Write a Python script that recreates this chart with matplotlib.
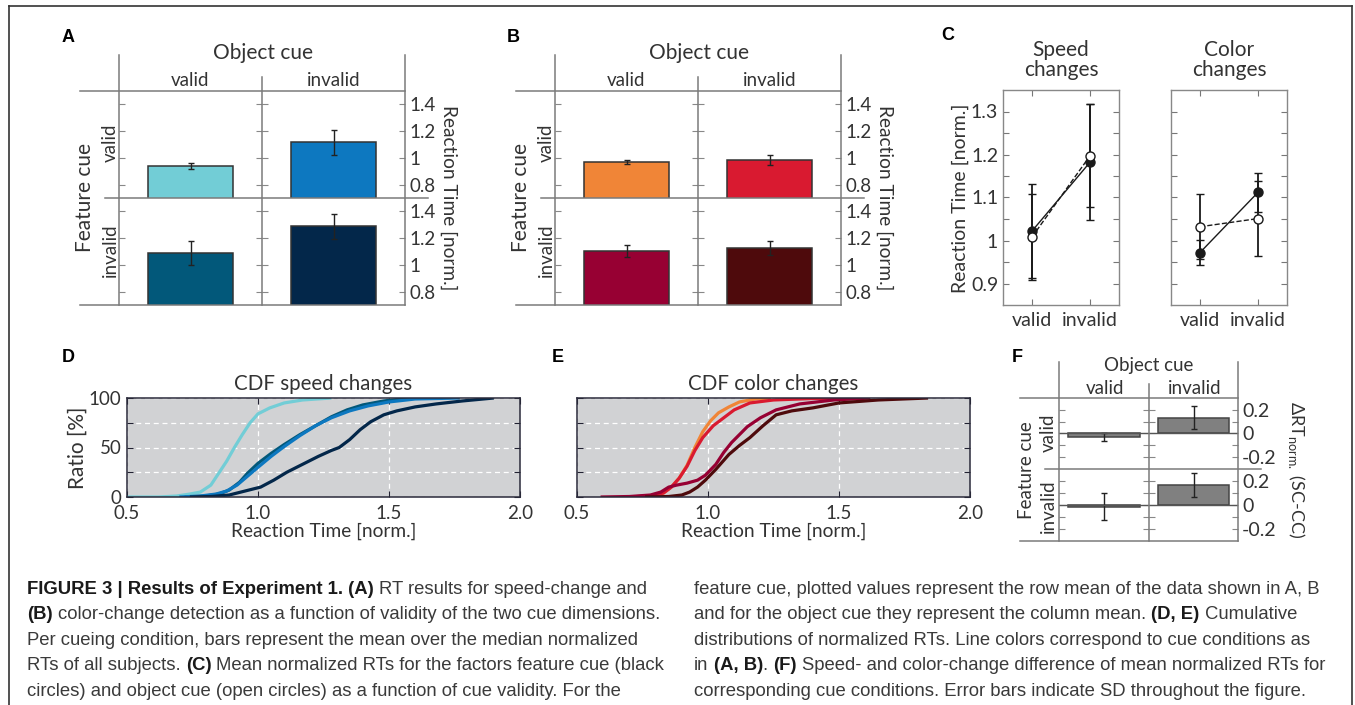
import matplotlib
matplotlib.use('Agg')
import matplotlib.pyplot as plt
from matplotlib.lines import Line2D

plt.rcParams['font.family'] = ['Lato', 'DejaVu Sans']
plt.rcParams['mathtext.fontset'] = 'custom'
plt.rcParams['mathtext.rm'] = 'Lato'

# --- data ---
# order: (feature valid, object valid), (feature valid, object invalid),
#        (feature invalid, object valid), (feature invalid, object invalid)
speed_means = [0.94, 1.115, 1.088, 1.287]
speed_sd = [0.025, 0.09, 0.09, 0.09]
speed_colors = ['#72CDD6', '#0D78C0', '#02587A', '#03274A']

color_means = [0.97, 0.983, 1.105, 1.125]
color_sd = [0.015, 0.04, 0.045, 0.05]
color_colors = ['#F08537', '#D91A30', '#970033', '#4E0A0C']

diff_means = [-0.032, 0.134, -0.014, 0.166]
diff_sd = [0.035, 0.095, 0.11, 0.10]

cue_labels = ['valid', 'invalid']
speed_feat = [1.022, 1.182]
speed_feat_sd = [0.11, 0.135]
speed_obj = [1.008, 1.197]
speed_obj_sd = [0.10, 0.12]
colr_feat = [0.972, 1.112]
colr_feat_sd = [0.03, 0.046]
colr_obj = [1.032, 1.051]
colr_obj_sd = [0.075, 0.087]

# CDF curves (x = normalized RT, y = ratio in %)
spd_vv_x = [0.50, 0.62, 0.69, 0.74, 0.78, 0.82, 0.85, 0.88, 0.91, 0.94, 0.97, 1.00, 1.045, 1.10, 1.17, 1.28]
spd_vv_y = [0, 0, 1, 3, 5, 12, 24, 36, 50, 63, 75, 84, 90, 95, 98, 100]
spd_iv_x = [0.72, 0.80, 0.85, 0.89, 0.93, 0.96, 1.00, 1.05, 1.10, 1.16, 1.22, 1.28, 1.34, 1.40, 1.48, 1.58]
spd_iv_y = [0, 1, 3, 7, 15, 24, 34, 44, 53, 63, 72, 81, 88, 93, 97, 100]
spd_vi_x = [0.70, 0.78, 0.84, 0.88, 0.92, 0.96, 1.00, 1.05, 1.10, 1.16, 1.22, 1.28, 1.35, 1.42, 1.50, 1.60, 1.77]
spd_vi_y = [0, 1, 3, 6, 12, 21, 30, 41, 51, 62, 72, 80, 87, 92, 96, 99, 100]
spd_ii_x = [0.74, 0.82, 0.89, 0.95, 1.01, 1.06, 1.11, 1.17, 1.23, 1.28, 1.31, 1.35, 1.39, 1.43, 1.48, 1.53, 1.60, 1.68, 1.78, 1.90]
spd_ii_y = [0, 0.5, 2, 6, 10, 17, 25, 33, 41, 47, 50, 58, 68, 76, 83, 87, 91, 94, 97, 100]

col_vv_x = [0.70, 0.78, 0.83, 0.86, 0.89, 0.92, 0.95, 0.98, 1.01, 1.04, 1.08, 1.12, 1.18, 1.24]
col_vv_y = [0, 1, 4, 10, 19, 32, 50, 66, 77, 85, 91, 96, 99, 100]
col_vi_x = [0.69, 0.78, 0.83, 0.86, 0.89, 0.92, 0.95, 0.98, 1.02, 1.06, 1.10, 1.16, 1.25, 1.40, 1.58]
col_vi_y = [0, 1, 4, 10, 19, 31, 47, 60, 72, 80, 88, 95, 98, 99.5, 100]
col_iv_x = [0.59, 0.70, 0.78, 0.82, 0.85, 0.88, 0.92, 0.96, 0.99, 1.03, 1.06, 1.09, 1.12, 1.15, 1.20, 1.26, 1.35, 1.48, 1.62]
col_iv_y = [0, 0.5, 2, 5, 10, 12, 14, 17, 22, 33, 45, 55, 63, 71, 80, 88, 94, 98, 100]
col_ii_x = [0.76, 0.85, 0.90, 0.93, 0.96, 0.99, 1.03, 1.08, 1.12, 1.16, 1.21, 1.26, 1.32, 1.40, 1.50, 1.65, 1.84]
col_ii_y = [0, 0.5, 2, 5, 10, 17, 28, 43, 52, 60, 72, 83, 87, 90, 95, 98, 100]

# --- layout helpers (pixel coordinates, origin top-left) ---
W, H = 1355, 705
fig = plt.figure(figsize=(W / 100, H / 100), dpi=100)
TXT = '#333333'
FRAME = '#7a7a7a'


def px_ax(x0, y0, x1, y1):
    return fig.add_axes([x0 / W, 1 - y1 / H, (x1 - x0) / W, (y1 - y0) / H])


def px_line(x0, y0, x1, y1, color=FRAME, lw=1.1):
    fig.add_artist(Line2D([x0 / W, x1 / W], [1 - y0 / H, 1 - y1 / H],
                          transform=fig.transFigure, color=color, lw=lw))


def px_text(x, y, s, **kw):
    kw.setdefault('color', TXT)
    kw.setdefault('ha', 'center')
    kw.setdefault('va', 'center')
    return fig.text(x / W, 1 - y / H, s, **kw)


def bar_grid(xs, ys, means, sd, colors, ylim, ticks, ticklabels, minor, width,
             edge, zero_line=False, lsize=13.5):
    for r in range(2):
        for c in range(2):
            k = r * 2 + c
            ax = px_ax(xs[c], ys[r], xs[c + 1], ys[r + 1])
            ax.bar(0, means[k], width, color=colors[k], edgecolor=edge, lw=1.1, zorder=2)
            ax.errorbar(0, means[k], yerr=sd[k], color='#222222', lw=1.0,
                        capsize=2.5, capthick=1.0, zorder=3)
            if zero_line:
                ax.axhline(0, color='#555555', lw=1.0, zorder=4)
            ax.set_xlim(-0.5, 0.5)
            ax.set_ylim(*ylim)
            ax.set_xticks([])
            ax.set_yticks(ticks)
            ax.set_yticklabels(ticklabels)
            ax.set_yticks(minor, minor=True)
            ax.tick_params(axis='y', which='both', direction='in', left=True, right=True,
                           length=4, width=0.8, color='#888888', labelleft=False,
                           labelright=(c == 1), labelsize=lsize, labelcolor=TXT, pad=3)
            ax.patch.set_alpha(0)
            for sp in ax.spines.values():
                sp.set_visible(False)
    # frame lines of the grid
    x0, xm, x1 = xs
    y0, ym, y1 = ys
    px_line(x0 - 39, y0, x1, y0)
    px_line(x0 - 14, ym, x1 + 23, ym)
    px_line(x0 - 39, y1, x1, y1)
    px_line(x0, y0 - 36, x0, y1)
    px_line(x1, y0 - 36, x1, y1)
    px_line(xm, y0 - 14, xm, y1)


# --- frame around the whole figure ---
px_line(9, 6, 1352, 6, color='#333333', lw=1.2)
px_line(9, 6, 9, 710, color='#333333', lw=1.2)
px_line(1352, 6, 1352, 710, color='#333333', lw=1.2)

label_kw = dict(fontsize=13, fontweight='bold', family='Liberation Sans', color='black')
px_text(68, 37, 'A', **label_kw)
px_text(513, 37, 'B', **label_kw)
px_text(948, 36, 'C', **label_kw)
px_text(68, 358, 'D', **label_kw)
px_text(558, 358, 'E', **label_kw)
px_text(1017, 358, 'F', **label_kw)

rt_ticks = [0.8, 1.0, 1.2, 1.4]
rt_labels = ['0.8', '1', '1.2', '1.4']

# --- panels A and B ---
for x0, means, sd, cols in [(119, speed_means, speed_sd, speed_colors),
                            (555, color_means, color_sd, color_colors)]:
    xm, x1 = x0 + 143, x0 + 286
    bar_grid([x0, xm, x1], [91, 198, 305], means, sd, cols,
             (0.7, 1.5), rt_ticks, rt_labels, [], 0.6, '#333333')
    px_text(xm + 1, 53, 'Object cue', fontsize=15)
    px_text((x0 + xm) / 2, 80, cue_labels[0], fontsize=13.5)
    px_text((xm + x1) / 2, 80, cue_labels[1], fontsize=13.5)
    px_text(x0 - 34, 197, 'Feature cue', fontsize=15, rotation=90)
    px_text(x0 - 9, 143, cue_labels[0], fontsize=13.5, rotation=90)
    px_text(x0 - 9, 250, cue_labels[1], fontsize=13.5, rotation=90)
    px_text(x1 + 44, 198, 'Reaction Time [norm.]', fontsize=13.8, rotation=270)

# --- panel C ---
for i, (x0, x1, feat, feat_sd, obj, obj_sd, title) in enumerate([
        (1003, 1119, speed_feat, speed_feat_sd, speed_obj, speed_obj_sd, 'Speed\nchanges'),
        (1171, 1287, colr_feat, colr_feat_sd, colr_obj, colr_obj_sd, 'Color\nchanges')]):
    ax = px_ax(x0, 90, x1, 305)
    ax.errorbar([1, 2], feat, yerr=feat_sd, fmt='-o', color='#1a1a1a', mfc='#1a1a1a',
                mec='#1a1a1a', ms=6.5, lw=1.0, elinewidth=1.3, capsize=3, zorder=3)
    ax.errorbar([1, 2], obj, yerr=obj_sd, fmt='--o', color='#1a1a1a', mfc='white',
                mec='#1a1a1a', ms=6.5, lw=1.0, elinewidth=1.3, capsize=3, zorder=4)
    ax.set_xlim(0.5, 2.5)
    ax.set_ylim(0.85, 1.35)
    ax.set_xticks([1, 2])
    ax.set_xticklabels(cue_labels)
    ax.set_yticks([0.9, 1.0, 1.1, 1.2, 1.3])
    ax.set_yticklabels(['0.9', '1', '1.1', '1.2', '1.3'])
    ax.set_yticks([0.95, 1.05, 1.15, 1.25], minor=True)
    ax.tick_params(which='both', direction='in', left=True, right=True, top=True, bottom=True,
                   length=4, width=0.8, color='#777777', labelsize=14, labelcolor=TXT,
                   labelleft=(i == 0))
    ax.tick_params(axis='x', pad=5)
    for sp in ax.spines.values():
        sp.set_color('#888888')
        sp.set_linewidth(1.0)
    px_text((x0 + x1) / 2, 60, title, fontsize=15, linespacing=1.05)
px_text(960, 198, 'Reaction Time [norm.]', fontsize=14, rotation=90)

# --- panels D and E ---
cdf_sets = [
    (127, 'CDF speed changes', True,
     [(spd_vv_x, spd_vv_y), (spd_iv_x, spd_iv_y), (spd_vi_x, spd_vi_y), (spd_ii_x, spd_ii_y)],
     [speed_colors[0], speed_colors[2], speed_colors[1], speed_colors[3]]),
    (577, 'CDF color changes', False,
     [(col_vv_x, col_vv_y), (col_vi_x, col_vi_y), (col_iv_x, col_iv_y), (col_ii_x, col_ii_y)],
     [color_colors[0], color_colors[1], color_colors[2], color_colors[3]]),
]
for x0, title, show_y, curves, cols in cdf_sets:
    ax = px_ax(x0, 398, x0 + 393, 497)
    ax.set_facecolor('#D1D2D4')
    ax.grid(True, color='white', ls=(0, (4, 3)), lw=0.9)
    ax.set_axisbelow(True)
    for (cx, cy), col in zip(curves, cols):
        ax.plot(cx, cy, color=col, lw=2.3, solid_capstyle='butt')
    ax.set_xlim(0.5, 2.0)
    ax.set_ylim(0, 100)
    ax.set_xticks([0.5, 1.0, 1.5, 2.0])
    ax.set_xticklabels(['0.5', '1.0', '1.5', '2.0'])
    ax.set_yticks([0, 25, 50, 75, 100])
    ax.set_yticklabels(['0', '', '50', '', '100'] if show_y else [''] * 5)
    ax.tick_params(which='both', direction='in', left=True, right=True, top=True, bottom=True,
                   length=4, width=0.8, color='#222233', labelsize=13.5, labelcolor=TXT)
    ax.tick_params(axis='x', pad=6)
    ax.tick_params(axis='y', pad=4)
    for sp in ax.spines.values():
        sp.set_color('#2a2a3a')
        sp.set_linewidth(1.1)
    ax.set_title(title, fontsize=14.8, color=TXT, pad=6)
    ax.set_xlabel('Reaction Time [norm.]', fontsize=13.8, color=TXT, labelpad=0)
    if show_y:
        ax.set_ylabel('Ratio [%]', fontsize=15, color=TXT, labelpad=1)

# --- panel F ---
bar_grid([1059, 1149, 1238], [398, 469, 541], diff_means, diff_sd, ['#808080'] * 4,
         (-0.3, 0.3), [-0.2, 0.0, 0.2], ['-0.2', '0', '0.2'], [-0.1, 0.1], 0.8, '#444444',
         zero_line=True, lsize=14)
px_text(1149, 365, 'Object cue', fontsize=13.5)
px_text(1105, 389, cue_labels[0], fontsize=13.5)
px_text(1195, 389, cue_labels[1], fontsize=13.5)
px_text(1027, 470, 'Feature cue', fontsize=13.5, rotation=90)
px_text(1048, 433, cue_labels[0], fontsize=13.5, rotation=90)
px_text(1048, 506, cue_labels[1], fontsize=13.5, rotation=90)
px_text(1296, 470, r'ΔRT$_{\mathrm{norm.}}$ (SC-CC)', fontsize=13, rotation=270)

# --- caption ---
renderer = fig.canvas.get_renderer()
CAP = dict(fontsize=13.3, family=['Liberation Sans Narrow', 'Liberation Sans'])


def text_width(s, bold):
    t = fig.text(0, 0, s, fontweight='bold' if bold else 'normal', **CAP)
    w = t.get_window_extent(renderer).width
    t.remove()
    return w


space_w = text_width('a a', False) - text_width('aa', False)


def rich_line(x, y, parts):
    for s, bold in parts:
        lead = len(s) - len(s.lstrip(' '))
        trail = len(s) - len(s.rstrip(' '))
        core = s.strip(' ')
        x += lead * space_w
        fig.text(x / W, 1 - y / H, core, ha='left', va='center',
                 fontweight='bold' if bold else 'normal',
                 color='#1a1a1a' if bold else '#3a3a3a', **CAP)
        x += text_width(core, bold) + trail * space_w


left_lines = [
    [('FIGURE 3 | Results of Experiment 1. (A)', True), (' RT results for speed-change and', False)],
    [('(B)', True), (' color-change detection as a function of validity of the two cue dimensions.', False)],
    [('Per cueing condition, bars represent the mean over the median normalized', False)],
    [('RTs of all subjects. ', False), ('(C)', True), (' Mean normalized RTs for the factors feature cue (black', False)],
    [('circles) and object cue (open circles) as a function of cue validity. For the', False)],
]
right_lines = [
    [('feature cue, plotted values represent the row mean of the data shown in A, B', False)],
    [('and for the object cue they represent the column mean. ', False), ('(D, E)', True), (' Cumulative', False)],
    [('distributions of normalized RTs. Line colors correspond to cue conditions as', False)],
    [('in ', False), ('(A, B)', True), ('. ', False), ('(F)', True),
     (' Speed- and color-change difference of mean normalized RTs for', False)],
    [('corresponding cue conditions. Error bars indicate SD throughout the figure.', False)],
]
for i, parts in enumerate(left_lines):
    rich_line(27, 589 + 25.6 * i, parts)
for i, parts in enumerate(right_lines):
    rich_line(694, 589 + 25.6 * i, parts)

fig.savefig('out.png', dpi=100, facecolor='white')
